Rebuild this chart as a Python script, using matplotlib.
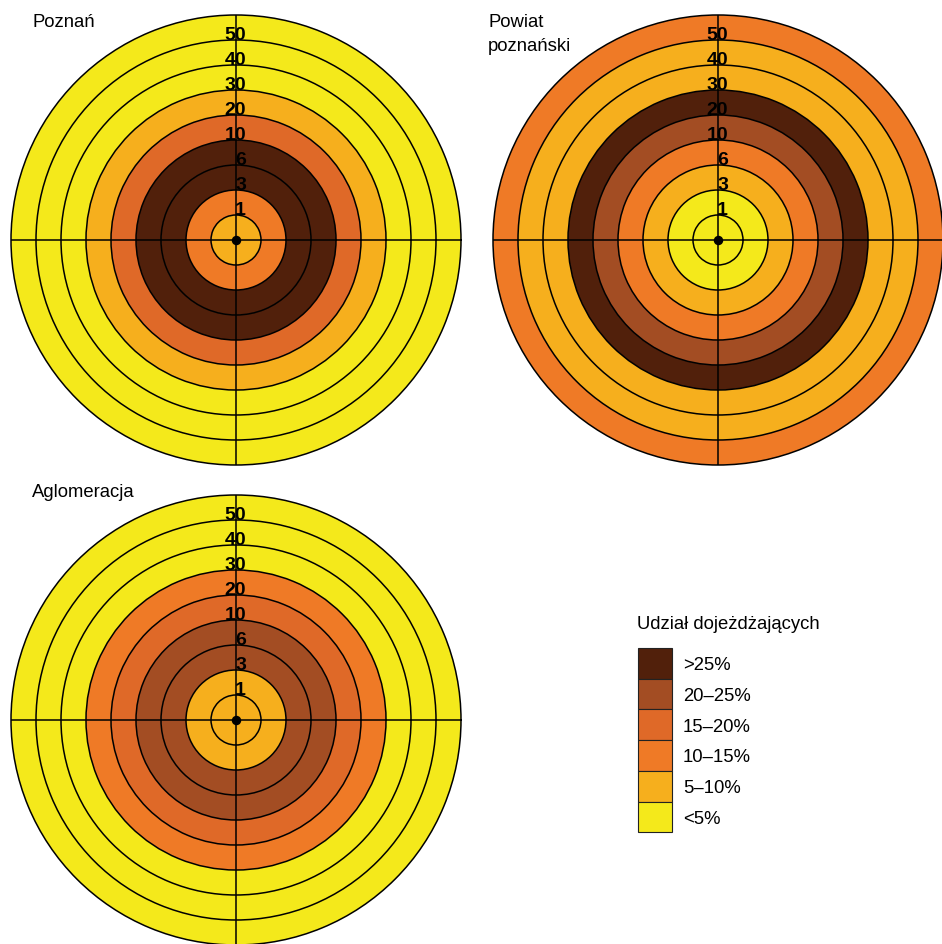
import numpy as np
import matplotlib
matplotlib.use("Agg")
import matplotlib.pyplot as plt
from matplotlib.patches import Rectangle

# Commuter-share classes (lowest to highest) and their fill colours
categories = ['<5%', '5–10%', '10–15%', '15–20%', '20–25%', '>25%']
class_colors = ['#F4E91B', '#F6AF1D', '#EF7A26', '#DF6928', '#A34D23', '#51200B']

# Distance-band boundaries in km (ring edges from the centre outward)
boundaries_km = [1, 3, 6, 10, 20, 30, 40, 50]

# Class index of each distance ring: 0–1, 1–3, 3–6, 6–10, 10–20, 20–30, 30–40, 40–50, >50 km
poznan = [1, 2, 5, 5, 3, 1, 0, 0, 0]
powiat = [0, 0, 1, 2, 4, 5, 1, 1, 2]
aglomeracja = [1, 1, 4, 4, 3, 2, 0, 0, 0]

panel_titles = [['Poznań'], ['Powiat', 'poznański'], ['Aglomeracja']]
legend_title = 'Udział dojeżdżających'

W, H = 942, 945
fig = plt.figure(figsize=(W / 100, H / 100), dpi=100)
fig.patch.set_facecolor('white')

FONT = 'Liberation Sans'
LW = 1.1
R_PX = 225  # outer radius of a target, pixels
TXT = 13.3


def target(cx, cy, rings):
    ax = fig.add_axes([(cx - R_PX) / W, (H - cy - R_PX) / H, 2 * R_PX / W, 2 * R_PX / H],
                      projection='polar')
    n = len(rings)
    for i, cls in enumerate(rings):
        ax.bar(0, 1, width=2 * np.pi, bottom=i, align='edge',
               color=class_colors[cls], edgecolor='none', linewidth=0)
    ax.set_ylim(0, n)
    ax.set_yticks(np.arange(1, n))
    ax.set_xticks([0, np.pi / 2, np.pi, 3 * np.pi / 2])
    ax.set_yticklabels([])
    ax.set_xticklabels([])
    ax.tick_params(length=0)
    ax.set_axisbelow(False)
    ax.grid(True, color='black', linewidth=LW)
    ax.spines['polar'].set_color('black')
    ax.spines['polar'].set_linewidth(LW)
    ax.set_facecolor('none')
    for r, km in enumerate(boundaries_km, start=1):
        ax.annotate(str(km), xy=(np.pi / 2, r), xytext=(10, 1),
                    textcoords='offset pixels', ha='right', va='baseline',
                    fontsize=14, fontweight='bold', family=FONT,
                    color='black', zorder=5)
    ax.plot([0], [0], 'o', color='black', ms=5.8, zorder=6, clip_on=False)
    return ax


target(236, 241, poznan)
target(718, 241, powiat)
target(236, 721, aglomeracja)

# Overlay in pixel coordinates for titles and legend
ov = fig.add_axes([0, 0, 1, 1])
ov.set_xlim(0, W)
ov.set_ylim(H, 0)
ov.axis('off')
ov.set_zorder(10)

title_pos = [(33, 27), (488, 27), (32, 497)]
for lines, (tx, ty) in zip(panel_titles, title_pos):
    for j, line in enumerate(lines):
        ov.text(tx, ty + j * 24, line, fontsize=TXT, family=FONT,
                va='baseline', ha='left')

# Legend: highest class on top
ov.text(637, 629, legend_title, fontsize=TXT, family=FONT, va='baseline', ha='left')
box_x, box_w, box_top, box_h = 638, 34, 649, 30.7
for k, idx in enumerate(range(len(categories) - 1, -1, -1)):
    y0 = box_top + k * box_h
    ov.add_patch(Rectangle((box_x, y0), box_w, box_h, facecolor=class_colors[idx],
                           edgecolor='#222222', linewidth=0.8))
    ov.text(683, y0 + box_h / 2 + 6, categories[idx], fontsize=TXT, family=FONT,
            va='baseline', ha='left')

fig.savefig('out.png', dpi=100, facecolor='white')
